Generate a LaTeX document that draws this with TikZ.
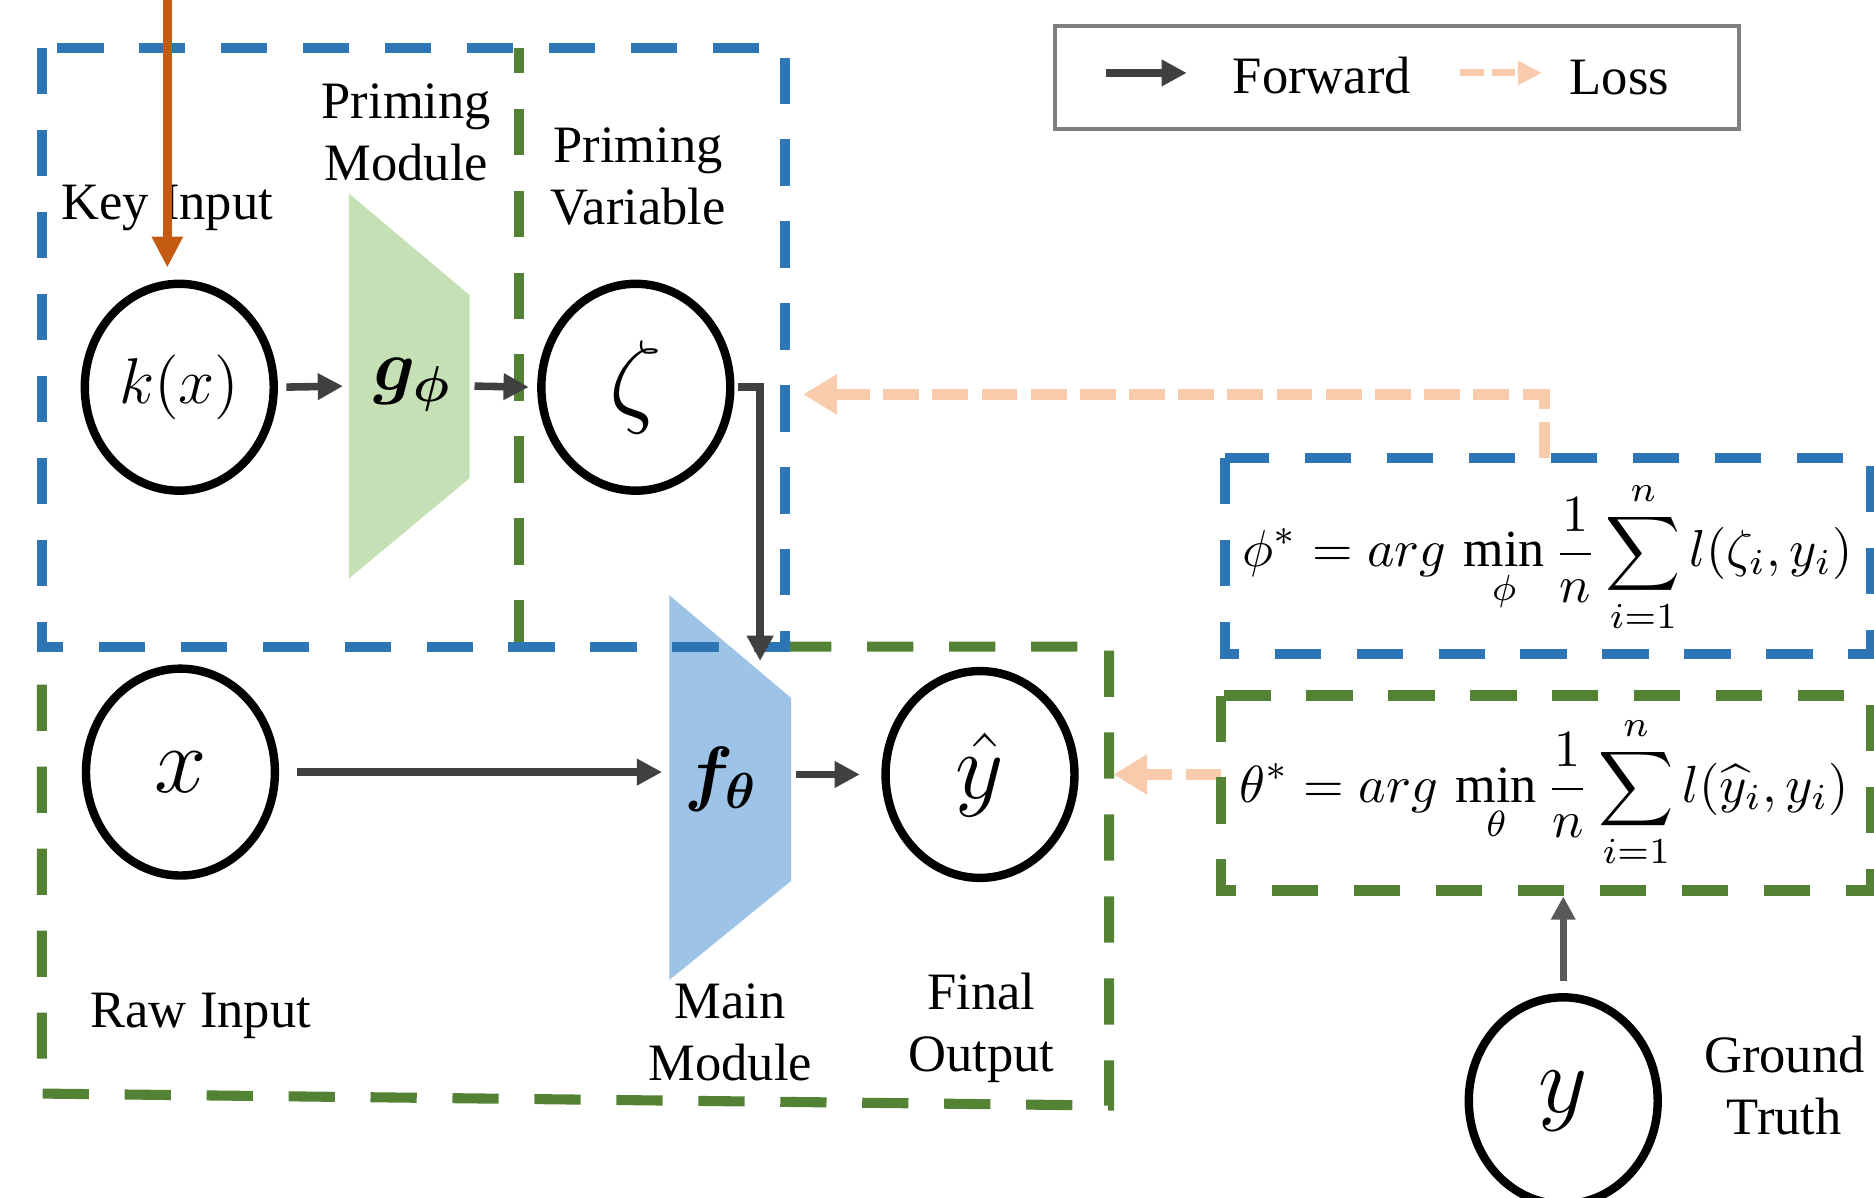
\documentclass[tikz,border=0pt]{standalone}
\usepackage{amsmath}
\usepackage{bm}
\usepackage{graphicx}
\usepackage{fontspec}
\setmainfont{Liberation Serif}
\usetikzlibrary{arrows.meta,shapes.geometric}
\definecolor{bluec}{HTML}{2E75B6}
\definecolor{greenc}{HTML}{548235}
\definecolor{gfill}{HTML}{C5E0B4}
\definecolor{ffill}{HTML}{9DC3E6}
\definecolor{orangec}{HTML}{C55A11}
\definecolor{lossc}{HTML}{F8CBAD}
\definecolor{fwdc}{HTML}{404040}
\definecolor{gtc}{HTML}{595959}
\definecolor{legc}{HTML}{7F7F7F}
\begin{document}
\begin{tikzpicture}[x=0.01cm,y=-0.01cm,
  boxdash/.style={line width=2.4pt, dash pattern=on 11pt off 8.5pt},
  ell/.style={ellipse, draw=black, line width=2pt, minimum width=1.58cm, minimum height=1.73cm, inner sep=0pt},
  lbl/.style={font=\fontsize{12.5}{14.8}\selectfont, align=center, inner sep=0pt},
  fwd/.style={draw=fwdc, line width=1.8pt, -{Triangle[length=6pt,width=6pt]}},
  loss/.style={draw=lossc, line width=2.6pt, dash pattern=on 8.5pt off 3.2pt, -{Triangle[length=8pt,width=9pt]}},
  blank/.style={inner sep=0pt, outer sep=0pt}
]
\useasboundingbox (0,0) rectangle (1568,1002);
\clip (0,0) rectangle (1568,1002);

% trapezoids
\fill[gfill] (292,162) -- (393,247) -- (393,400) -- (292,484) -- cycle;
\fill[ffill] (560,498) -- (662,584) -- (662,737) -- (560,820) -- cycle;
\node[blank, minimum width=1.01cm, minimum height=3.22cm] (g) at (342.5,323) {};
\node[blank, minimum width=1.02cm, minimum height=3.22cm] (f) at (611,659) {};
\node[blank, font=\fontsize{17.28}{20}\selectfont] (gtxt) at (345,322) {$\bm{g_{\phi}}$};
\node[blank, font=\fontsize{17.28}{20}\selectfont] (ftxt) at (603,652) {$\bm{f_{\theta}}$};

% dashed frames
\draw[boxdash, draw=greenc] (434,541) -- (434,40);
\draw[boxdash, draw=greenc] (657,541) -- (928,541) -- (928,925) -- (35,915) -- (35,541);
\draw[boxdash, draw=bluec] (35,40) rectangle (657,541);

% ellipses
\node[ell, font=\fontsize{14.4}{18}\selectfont] (kx) at (150,324) {\scalebox{1.07}{$k(x)$}};
\node[ell, font=\fontsize{24.88}{28}\selectfont] (zeta) at (532,324) {$\zeta$};
\node[ell, font=\fontsize{20.74}{26}\selectfont] (xin) at (151,646) {\scalebox{1.08}{$x$}};
\node[ell, font=\fontsize{20.74}{26}\selectfont] (yhat) at (820,648) {\scalebox{1.08}{$\hat{y}$}};
\node[ell, font=\fontsize{20.74}{26}\selectfont] (ygt) at (1308,921) {\scalebox{1.1}{$y$}};

% forward arrows
\draw[fwd, shorten <=0.07cm, shorten >=0.05cm] (kx.east) -- (g.west);
\draw[fwd, shorten <=0.04cm, shorten >=0.07cm] (g.east) -- (zeta.west);
\coordinate (fin) at (636,553);
\draw[fwd, shorten <=0.03cm] (zeta.east) -| (fin);
\draw[fwd, shorten <=0.15cm, shorten >=0.06cm] (xin.east) -- (f.west |- xin.east);
\draw[fwd, shorten <=0.04cm, shorten >=0.18cm] (f.east |- yhat.west) -- (yhat.west);

% formula boxes
\node[blank, minimum width=5.40cm, minimum height=1.64cm] (phibox) at (1295,465) {};
\node[blank, minimum width=5.43cm, minimum height=1.63cm] (thetabox) at (1293.5,663.5) {};
\coordinate (lossT) at (672,330);
\draw[loss] ([xshift=-0.03cm]phibox.north) |- (lossT);
\draw[loss, shorten >=0.29cm] (yhat.east -| thetabox.west) -- (yhat.east);
\draw[boxdash, draw=bluec] (phibox.north west) rectangle (phibox.south east);
\draw[boxdash, draw=greenc] (thetabox.north west) rectangle (thetabox.south east);
\node[blank] (phiform) at (1295,466) {\resizebox{5.1cm}{!}{$\displaystyle\phi^{*}=arg\,\min_{\phi}\frac{1}{n}\sum_{i=1}^{n}l(\zeta_i,y_i)$}};
\node[blank] (thform) at (1292,663) {\resizebox{5.1cm}{!}{$\displaystyle\theta^{*}=arg\,\min_{\theta}\frac{1}{n}\sum_{i=1}^{n}l(\widehat{y}_i,y_i)$}};

% ground truth arrow
\draw[draw=gtc, line width=1.6pt, -{Triangle[length=5.5pt,width=5.5pt]}, shorten <=0.1cm, shorten >=0.05cm] (ygt.north) -- (ygt.north |- thetabox.south);

% legend
\node[blank, draw=legc, line width=1pt, minimum width=5.72cm, minimum height=0.86cm] (legend) at (1169,65) {};
\coordinate (lf1) at (925,61);
\coordinate (lf2) at (993,61);
\draw[fwd] (lf1) -- (lf2);
\node[lbl] (lfwd) at (1106,63) {Forward};
\coordinate (ll1) at (1222,61);
\coordinate (ll2) at (1290,61);
\draw[draw=lossc, line width=1.7pt, dash pattern=on 5.5pt off 2pt, -{Triangle[length=5.7pt,width=5.5pt]}] (ll1) -- (ll2);
\node[lbl] (lloss) at (1355,65) {Loss};

% labels
\node[lbl] (lblpm) at (340,111) {Priming\\Module};
\node[lbl] (lblki) at (140,174) {Key Input};
\node[lbl] (lblpv) at (534,148) {Priming\\Variable};
\node[lbl] (lblri) at (168,850) {Raw Input};
\node[lbl] (lblmm) at (611,864) {Main\\Module};
\node[lbl] (lblfo) at (821,860) {Final\\Output};
\node[lbl] (lblgt) at (1493,908) {Ground\\Truth};

% key input arrow
\coordinate (kin) at (140,0);
\draw[draw=orangec, line width=2.2pt, -{Triangle[length=7.4pt,width=7pt]}, shorten >=0.1cm] (kin) -- (kin |- kx.north);
\end{tikzpicture}
\end{document}
